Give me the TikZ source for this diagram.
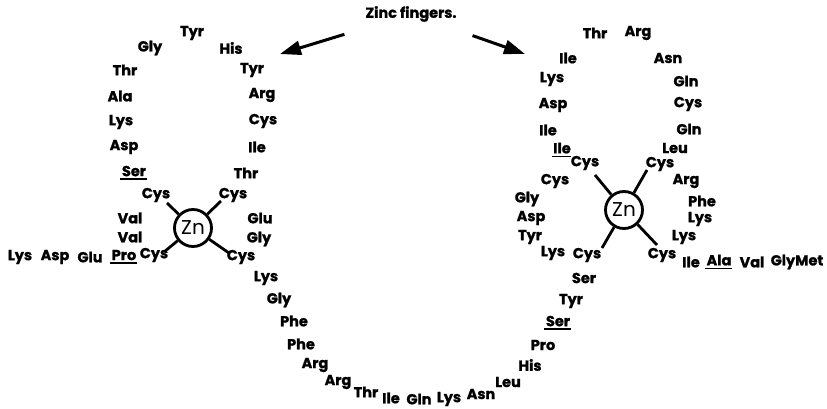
\documentclass[tikz,border=0pt]{standalone}
\usepackage{fontspec}
\setmainfont{Poppins}[BoldFeatures={FakeBold=1.2}]
\usetikzlibrary{arrows.meta}
\newcommand\ulres[1]{\setbox0=\hbox{#1}\rlap{\kern-1.5pt\raisebox{-4pt}{\rule{\dimexpr\wd0+2pt\relax}{1.8pt}}}\box0}
\tikzset{
  res/.style={font=\bfseries\fontsize{14.5}{15}\selectfont, inner sep=0pt},
  zn/.style={circle, draw, line width=2.8pt, minimum size=37pt, inner sep=0pt, font=\fontsize{20}{20}\selectfont},
  spoke/.style={line width=2.8pt},
  arr/.style={line width=3pt, -{Triangle[length=21pt,width=14pt]}}
}
\begin{document}
\begin{tikzpicture}[x=1pt,y=-1pt]
\useasboundingbox (0,0) rectangle (827,409);
% title and arrows
\node[res, inner sep=3pt] (t) at (411,14) {Zinc fingers.};
\coordinate (aL) at (280,54);
\coordinate (aR) at (525,54);
\draw[arr, shorten <=32pt] (t) -- (aL);
\draw[arr, shorten <=32pt] (t) -- (aR);
% ---------- left finger ----------
\node[res] (l1) at (20,257) {Lys};
\node[res] (l2) at (55,257) {Asp};
\node[res] (l3) at (90,257) {Glu};
\node[res] (l4) at (124,257) {\ulres{Pro}};
\node[res] (l5) at (154,255) {Cys};
\node[res] (l6) at (130,237) {Val};
\node[res] (l7) at (130,218) {Val};
\node[res] (l8) at (156,195) {Cys};
\node[res] (l9) at (134,173) {\ulres{Ser}};
\node[res] (l10) at (124,147) {Asp};
\node[res] (l11) at (121,122) {Lys};
\node[res] (l12) at (120,96) {Ala};
\node[res] (l13) at (125,70) {Thr};
\node[res] (l14) at (150,48) {Gly};
\node[res] (l15) at (192,33) {Tyr};
\node[res] (l16) at (231,48) {His};
\node[res] (l17) at (252,70) {Tyr};
\node[res] (l18) at (262,95) {Arg};
\node[res] (l19) at (263,121) {Cys};
\node[res] (l20) at (257,147) {Ile};
\node[res] (l21) at (246,173) {Thr};
\node[res] (l22) at (233,195) {Cys};
\node[res] (l23) at (260,218) {Glu};
\node[res] (l24) at (259,239) {Gly};
\node[res] (l25) at (241,257) {Cys};
\node[zn] (zl) at (193,228) {Zn};
\coordinate (zl1) at (167,203);
\coordinate (zl2) at (221,201);
\coordinate (zl3) at (164,252);
\coordinate (zl4) at (229,253);
\draw[spoke] (zl) -- (zl1);
\draw[spoke] (zl) -- (zl2);
\draw[spoke] (zl) -- (zl3);
\draw[spoke] (zl) -- (zl4);
% ---------- linker ----------
\node[res] (k1) at (266,278) {Lys};
\node[res] (k2) at (279,300) {Gly};
\node[res] (k3) at (294,321) {Phe};
\node[res] (k4) at (301,344) {Phe};
\node[res] (k5) at (315,365) {Arg};
\node[res] (k6) at (338,382) {Arg};
\node[res] (k7) at (366,392) {Thr};
\node[res] (k8) at (391,398) {Ile};
\node[res] (k9) at (419,399) {Gln};
\node[res] (k10) at (449,399) {Lys};
\node[res] (k11) at (481,394) {Asn};
\node[res] (k12) at (508,382) {Leu};
\node[res] (k13) at (530,365) {His};
\node[res] (k14) at (543,345) {Pro};
\node[res] (k15) at (558,323) {\ulres{Ser}};
\node[res] (k16) at (571,301) {Tyr};
\node[res] (k17) at (584,278) {Ser};
% ---------- right finger ----------
\node[res] (r1) at (587,255) {Cys};
\node[res] (r2) at (553,253) {Lys};
\node[res] (r3) at (530,237) {Tyr};
\node[res] (r4) at (531,218) {Asp};
\node[res] (r5) at (527,199) {Gly};
\node[res] (r6) at (555,181) {Cys};
\node[res] (r7) at (585,163) {Cys};
\node[res] (r8) at (562,150) {\ulres{Ile}};
\node[res] (r9) at (548,130) {Ile};
\node[res] (r10) at (553,105) {Asp};
\node[res] (r11) at (552,79) {Lys};
\node[res] (r12) at (568,58) {Ile};
\node[res] (r13) at (595,33) {Thr};
\node[res] (r14) at (638,33) {Arg};
\node[res] (r15) at (668,58) {Asn};
\node[res] (r16) at (686,81) {Gln};
\node[res] (r17) at (688,104) {Cys};
\node[res] (r18) at (689,129) {Gln};
\node[res] (r19) at (675,148) {Leu};
\node[res] (r20) at (660,164) {Cys};
\node[res] (r21) at (686,181) {Arg};
\node[res] (r22) at (702,201) {Phe};
\node[res] (r23) at (700,219) {Lys};
\node[res] (r24) at (684,237) {Lys};
\node[res] (r25) at (662,255) {Cys};
\node[res] (r26) at (691,262) {Ile};
\node[res] (r27) at (719,262) {\ulres{Ala}};
\node[res] (r28) at (752,262) {Val};
\node[res] (r29) at (797,262) {GlyMet};
\node[zn] (zr) at (624,210) {Zn};
\coordinate (zr1) at (595,175);
\coordinate (zr2) at (647,170);
\coordinate (zr3) at (602,248);
\coordinate (zr4) at (657,245);
\draw[spoke] (zr) -- (zr1);
\draw[spoke] (zr) -- (zr2);
\draw[spoke] (zr) -- (zr3);
\draw[spoke] (zr) -- (zr4);
\end{tikzpicture}
\end{document}
